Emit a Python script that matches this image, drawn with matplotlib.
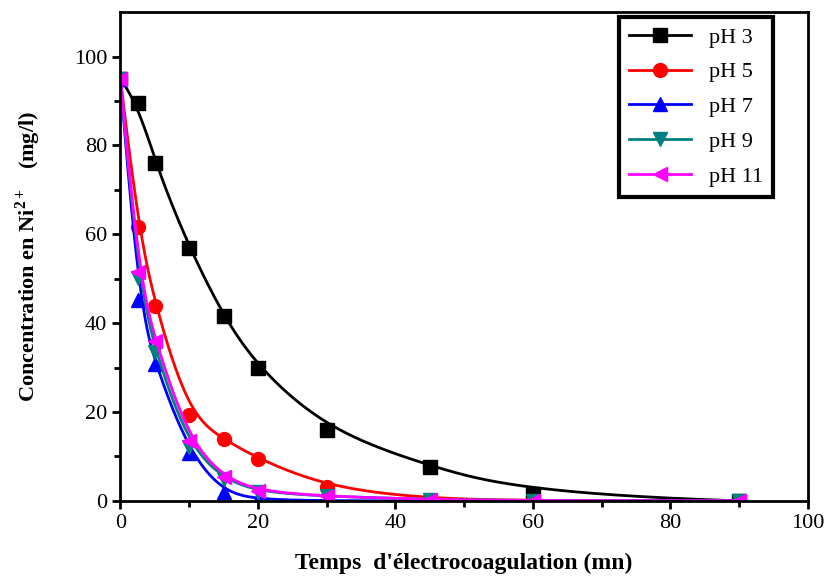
import numpy as np
import matplotlib
matplotlib.use("Agg")
import matplotlib.pyplot as plt

plt.rcParams['font.family'] = ['Liberation Serif', 'DejaVu Serif']
plt.rcParams['mathtext.fontset'] = 'custom'
plt.rcParams['mathtext.rm'] = 'Liberation Serif'
plt.rcParams['mathtext.bf'] = 'Liberation Serif:bold'

# temps d'électrocoagulation (mn)
temps = [0, 2.5, 5, 10, 15, 20, 30, 45, 60, 90]

# concentration en Ni2+ (mg/l)
ph3 = [95, 89.5, 76, 57, 41.5, 30, 16, 7.6, 1.5, 0]
ph5 = [95, 61.7, 43.9, 19.3, 13.9, 9.5, 3.1, 0.3, 0, 0]
ph7 = [95, 45.2, 30.7, 10.8, 1.9, 0.3, 0, 0, 0, 0]
ph9 = [95, 50.2, 33.4, 12.2, 5.0, 2.0, 1.0, 0.3, 0, 0]
ph11 = [95, 51.4, 36.0, 13.5, 5.4, 2.2, 1.0, 0.3, 0, 0]

series = [
    ("pH 3", ph3, 'black', 's'),
    ("pH 5", ph5, 'red', 'o'),
    ("pH 7", ph7, 'blue', '^'),
    ("pH 9", ph9, '#008080', 'v'),
    ("pH 11", ph11, 'magenta', '<'),
]


def bspline(x, y, k=3, npts=500):
    # B-spline cubique (points de mesure = points de contrôle), comme "B-Spline" d'Origin
    P = np.column_stack([x, y]).astype(float)
    n = len(P)
    inner = np.linspace(0, 1, n - k + 1)
    knots = np.concatenate([[0] * k, inner, [1] * k])
    u = np.linspace(0, 1, npts)
    u[-1] = 1 - 1e-12
    # Cox-de Boor
    N = np.zeros((npts, len(knots) - 1))
    for i in range(len(knots) - 1):
        N[:, i] = (knots[i] <= u) & (u < knots[i + 1])
    for d in range(1, k + 1):
        Nn = np.zeros((npts, len(knots) - 1 - d))
        for i in range(len(knots) - 1 - d):
            a = knots[i + d] - knots[i]
            b = knots[i + d + 1] - knots[i + 1]
            term = 0
            if a > 0:
                term = term + (u - knots[i]) / a * N[:, i]
            if b > 0:
                term = term + (knots[i + d + 1] - u) / b * N[:, i + 1]
            Nn[:, i] = term
        N = Nn
    C = N @ P
    return C[:, 0], C[:, 1]


fig, ax = plt.subplots(figsize=(8.25, 5.77), dpi=100)
fig.subplots_adjust(left=0.146, right=0.979, top=0.979, bottom=0.132)

for label, y, color, marker in series:
    cx, cy = bspline(temps, y)
    ax.plot(cx, cy, color=color, lw=2)
    ax.plot(temps, y, linestyle='none', marker=marker, color=color, markersize=10)
    ax.plot([], [], color=color, lw=2, marker=marker, markersize=10, label=label)

ax.set_xlim(0, 100)
ax.set_ylim(0, 110)
ax.set_xticks(np.arange(0, 101, 20))
ax.set_yticks(np.arange(0, 101, 20))
ax.set_xticks(np.arange(10, 100, 20), minor=True)
ax.set_yticks(np.arange(10, 110, 20), minor=True)
ax.tick_params(which='major', direction='out', length=6, width=2, labelsize=16, top=False, right=False)
ax.tick_params(which='minor', direction='out', length=4, width=2, top=False, right=False)
for s in ax.spines.values():
    s.set_linewidth(2)

ax.set_xlabel("Temps  d'électrocoagulation (mn)", fontsize=17, fontweight='bold', labelpad=14)
ax.set_ylabel(r"Concentration en Ni$^{\mathbf{2+}}$   (mg/l)", fontsize=16, fontweight='bold', labelpad=22)

leg = ax.legend(loc='upper right', bbox_to_anchor=(0.949, 0.99), borderaxespad=0, fontsize=16,
                frameon=True, fancybox=False, edgecolor='black', handlelength=2.8, borderpad=0.45,
                labelspacing=0.64, framealpha=1)
leg.get_frame().set_linewidth(3)

fig.savefig("out.png", dpi=100)
